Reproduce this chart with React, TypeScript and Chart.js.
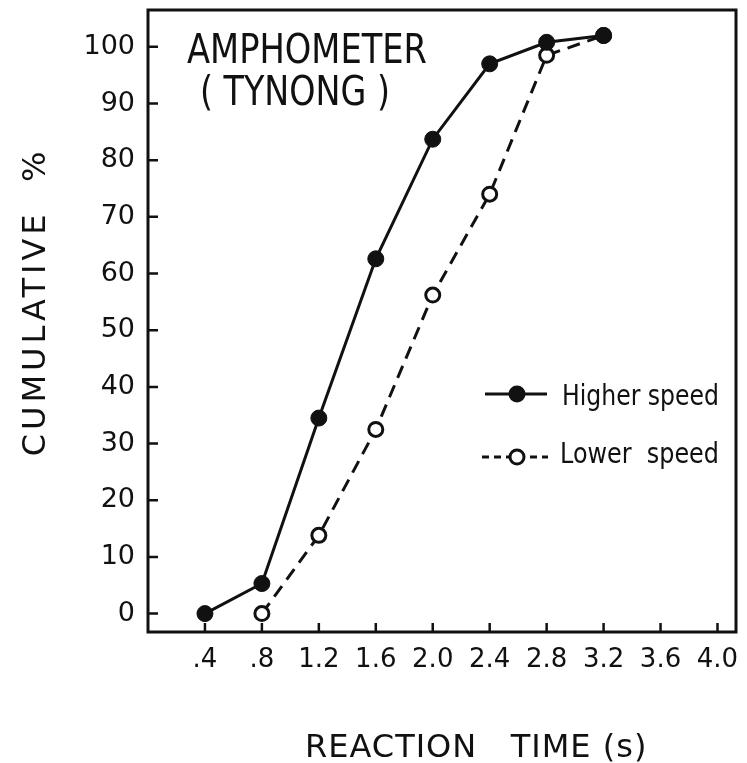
import React, { useEffect, useRef } from 'react';
import { Chart, registerables } from 'chart.js';

Chart.register(...registerables);

// ---- data ----
const higherTimes = [0.4, 0.8, 1.2, 1.6, 2.0, 2.4, 2.8, 3.2];
const higherSpeed = [0, 5.3, 34.5, 62.6, 83.7, 97.0, 100.8, 102.0];
const lowerTimes = [0.8, 1.2, 1.6, 2.0, 2.4, 2.8, 3.2];
const lowerSpeed = [0, 13.8, 32.5, 56.2, 74.0, 98.5, 102.0];
const xTickValues = [0.4, 0.8, 1.2, 1.6, 2.0, 2.4, 2.8, 3.2, 3.6, 4.0];
const xTickLabels = ['.4', '.8', '1.2', '1.6', '2.0', '2.4', '2.8', '3.2', '3.6', '4.0'];
const yTickValues = [0, 10, 20, 30, 40, 50, 60, 70, 80, 90, 100];
const titleLines = ['AMPHOMETER', '( TYNONG )'];
const legendLabels = ['Higher speed', 'Lower  speed'];
const xAxisTitle = 'REACTION   TIME (s)';
const yAxisTitle = 'CUMULATIVE  %';

const INK = '#111111';
const FONT = '"DejaVu Sans", sans-serif';

function drawScaledText(ctx: CanvasRenderingContext2D, text: string, x: number, y: number, size: number, width: number) {
  ctx.save();
  ctx.font = `${size}px ${FONT}`;
  const w = ctx.measureText(text).width;
  const sx = width / w;
  ctx.translate(x, y);
  ctx.scale(sx, 1);
  ctx.textAlign = 'left';
  ctx.textBaseline = 'alphabetic';
  ctx.fillText(text, 0, 0);
  ctx.restore();
}

const framePlugin = {
  id: 'frame',
  beforeDatasetsDraw(chart: any) {
    const { ctx, chartArea, scales } = chart;
    const { left, right, top, bottom } = chartArea;
    ctx.save();
    ctx.strokeStyle = INK;
    ctx.lineWidth = 3;
    ctx.strokeRect(left, top, right - left, bottom - top);
    ctx.lineWidth = 2.5;
    ctx.beginPath();
    for (const v of yTickValues) {
      const py = scales.y.getPixelForValue(v);
      ctx.moveTo(left, py);
      ctx.lineTo(left + 10, py);
    }
    for (const v of xTickValues) {
      const px = scales.x.getPixelForValue(v);
      ctx.moveTo(px, bottom);
      ctx.lineTo(px, bottom - 9);
    }
    ctx.stroke();
    ctx.restore();
  },
};

const annotationPlugin = {
  id: 'annot',
  afterDraw(chart: any) {
    const { ctx } = chart;
    ctx.save();
    ctx.fillStyle = INK;
    ctx.strokeStyle = INK;

    // title inside plot
    drawScaledText(ctx, titleLines[0], 187, 63, 40, 240);
    drawScaledText(ctx, titleLines[1], 200, 105, 40, 190);

    // legend
    ctx.lineWidth = 3;
    ctx.setLineDash([]);
    ctx.beginPath();
    ctx.moveTo(485, 394);
    ctx.lineTo(547, 394);
    ctx.stroke();
    ctx.beginPath();
    ctx.arc(517, 394, 8.5, 0, Math.PI * 2);
    ctx.fill();
    drawScaledText(ctx, legendLabels[0], 562, 405, 28, 157);

    ctx.setLineDash([7, 5]);
    ctx.beginPath();
    ctx.moveTo(482, 457);
    ctx.lineTo(548, 457);
    ctx.stroke();
    ctx.setLineDash([]);
    ctx.beginPath();
    ctx.arc(517, 457, 7, 0, Math.PI * 2);
    ctx.fillStyle = '#ffffff';
    ctx.fill();
    ctx.stroke();
    ctx.fillStyle = INK;
    drawScaledText(ctx, legendLabels[1], 560, 463, 28, 159);

    // axis titles
    ctx.save();
    ctx.font = `32px ${FONT}`;
    (ctx as any).letterSpacing = '1px';
    ctx.textAlign = 'left';
    ctx.textBaseline = 'alphabetic';
    ctx.fillText(xAxisTitle, 305, 757);
    ctx.restore();

    ctx.save();
    ctx.translate(45, 304);
    ctx.rotate(-Math.PI / 2);
    ctx.font = `32px ${FONT}`;
    (ctx as any).letterSpacing = '4px';
    ctx.textAlign = 'center';
    ctx.textBaseline = 'alphabetic';
    ctx.fillText(yAxisTitle, 2, 0);
    ctx.restore();

    ctx.restore();
  },
};

export default function App() {
  const canvasRef = useRef<HTMLCanvasElement | null>(null);

  useEffect(() => {
    const canvas = canvasRef.current;
    if (!canvas) return;
    const chart = new Chart(canvas, {
      type: 'line',
      data: {
        datasets: [
          {
            label: 'Higher speed',
            data: higherTimes.map((t, i) => ({ x: t, y: higherSpeed[i] })),
            borderColor: INK,
            backgroundColor: INK,
            borderWidth: 3,
            pointRadius: 8,
            pointBorderWidth: 1,
            pointBackgroundColor: INK,
            pointBorderColor: INK,
            tension: 0,
            order: 0,
            clip: false as any,
          },
          {
            label: 'Lower speed',
            data: lowerTimes.map((t, i) => ({ x: t, y: lowerSpeed[i] })),
            borderColor: INK,
            backgroundColor: '#ffffff',
            borderWidth: 3,
            borderDash: [13, 8],
            pointRadius: 7,
            pointBorderWidth: 3,
            pointBackgroundColor: '#ffffff',
            pointBorderColor: INK,
            tension: 0,
            order: 1,
            clip: false as any,
          },
        ],
      },
      options: {
        responsive: false,
        animation: false,
        layout: { padding: { top: 10, right: 11, left: 0, bottom: 0 } },
        plugins: {
          legend: { display: false },
          tooltip: { enabled: false },
          title: { display: false },
        },
        scales: {
          x: {
            type: 'linear',
            min: 0,
            max: 4.13,
            afterBuildTicks: (s: any) => {
              s.ticks = xTickValues.map((v) => ({ value: v }));
            },
            afterFit: (s: any) => {
              s.height = 131;
              s.paddingLeft = 0;
              s.paddingRight = 0;
            },
            ticks: {
              callback: (_v: any, i: number) => xTickLabels[i],
              autoSkip: false,
              maxRotation: 0,
              padding: 13,
              color: INK,
              font: { family: FONT, size: 26 },
            },
            grid: { display: false, drawTicks: false },
            border: { display: false },
          },
          y: {
            type: 'linear',
            min: -3.25,
            max: 106.5,
            afterBuildTicks: (s: any) => {
              s.ticks = yTickValues.map((v) => ({ value: v }));
            },
            afterFit: (s: any) => {
              s.width = 148;
              s.paddingTop = 0;
              s.paddingBottom = 0;
            },
            ticks: {
              padding: 13,
              color: INK,
              font: { family: FONT, size: 27 },
            },
            grid: { display: false, drawTicks: false },
            border: { display: false },
          },
        },
      },
      plugins: [framePlugin, annotationPlugin],
    });
    return () => chart.destroy();
  }, []);

  return (
    <div style={{ position: 'absolute', left: 0, top: 0, width: 747, height: 763, background: '#ffffff' }}>
      <canvas ref={canvasRef} width={747} height={763} style={{ display: 'block' }} />
    </div>
  );
}
